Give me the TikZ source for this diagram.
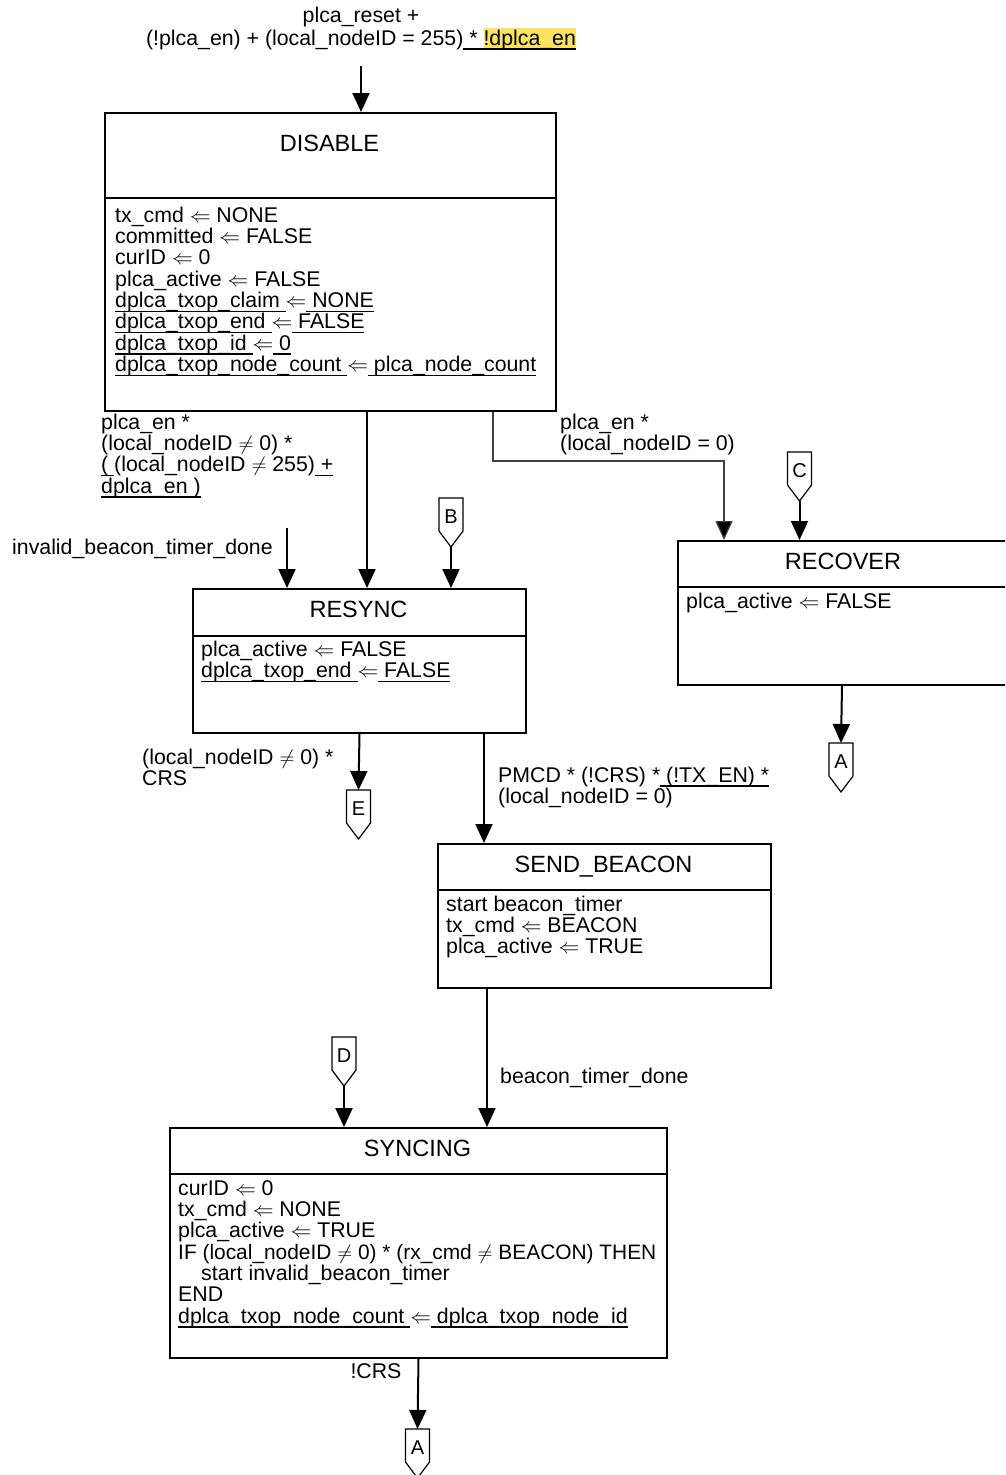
\documentclass[tikz,border=0pt]{standalone}
\usepackage{fontspec}
\setmainfont{Liberation Sans}
\usetikzlibrary{arrows.meta}
\definecolor{hl}{HTML}{FCE35C}
\newcommand\ulx[1]{\setbox0\hbox{#1}\copy0\llap{\rule[-4.5pt]{\wd0}{1.3pt}}}
\newcommand\bstrut{\rule{0pt}{17pt}}
\newcommand\getsarrow{$\Leftarrow$}
\newcommand\bodyf{\fontsize{21.3}{21.3}\selectfont}
\newcommand\titlef{\fontsize{23.5}{24}\selectfont}
\newcommand\offpage[4]{%
  \draw[pentline] (#2-12,#3) -- (#2+12,#3) -- (#2+12,#3+33) -- (#2,#3+49) -- (#2-12,#3+33) -- cycle;
  \node[letter] (#1) at (#2,#3+25) {#4};
  \coordinate (#1in) at (#2,#3);
  \coordinate (#1out) at (#2,#3+49);}
\tikzset{
  x=1pt, y=-1pt,
  statebox/.style={draw, line width=2pt, inner sep=0pt, anchor=north west},
  divider/.style={line width=1.5pt},
  arr/.style={line width=2pt, -{Triangle[width=17pt,length=19pt]}},
  thinarr/.style={line width=1.2pt, draw=black!75, -{Triangle[width=17pt,length=19pt,fill=black]}},
  pentline/.style={line width=1.2pt},
  letter/.style={anchor=base, inner sep=0pt, font=\fontsize{20}{22}\selectfont},
  body/.style={anchor=north west, inner sep=0pt, align=left, font=\bodyf},
  title/.style={anchor=base, inner sep=0pt, font=\titlef},
  lbl/.style={anchor=north west, inner sep=0pt, align=left, font=\bodyf},
}
\begin{document}
\begin{tikzpicture}
\useasboundingbox (0,0) rectangle (1005,1475);
\clip (0,0) rectangle (1005,1475);

% ---------- states ----------
\node[statebox, minimum width=451pt, minimum height=298pt] (disable) at (104,112) {};
\draw[divider] (disable.west |- 0,198) -- (disable.east |- 0,198);
\node[title] (disablet) at (329.5,151) {DISABLE};
\node[body] (disableb) at (115,205) {\bstrut tx\_cmd \getsarrow{} NONE\\
committed \getsarrow{} FALSE\\
curID \getsarrow{} 0\\
plca\_active \getsarrow{} FALSE\\
\ulx{dplca\_txop\_claim }\getsarrow\ulx{ NONE}\\
\ulx{dplca\_txop\_end }\getsarrow\ulx{ FALSE}\\
\ulx{dplca\_txop\_id }\getsarrow\ulx{ 0}\\
\ulx{dplca\_txop\_node\_count }\getsarrow\ulx{ plca\_node\_count}};

\node[statebox, minimum width=333pt, minimum height=144pt] (resync) at (192,588) {};
\draw[divider] (resync.west |- 0,636) -- (resync.east |- 0,636);
\node[title] (resynct) at (358.5,617) {RESYNC};
\node[body] (resyncb) at (201,639) {\bstrut plca\_active \getsarrow{} FALSE\\
\ulx{dplca\_txop\_end }\getsarrow\ulx{ FALSE}};

\node[statebox, minimum width=332pt, minimum height=144pt] (recover) at (677,540) {};
\draw[divider] (recover.west |- 0,587) -- (recover.east |- 0,587);
\node[title] (recovert) at (843,569) {RECOVER};
\node[body] (recoverb) at (686,591) {\bstrut plca\_active \getsarrow{} FALSE};

\node[statebox, minimum width=333pt, minimum height=144pt] (send) at (437,843) {};
\draw[divider] (send.west |- 0,890) -- (send.east |- 0,890);
\node[title] (sendt) at (603.5,872) {SEND\_BEACON};
\node[body] (sendb) at (446,894) {\bstrut start beacon\_timer\\
tx\_cmd \getsarrow{} BEACON\\
plca\_active \getsarrow{} TRUE};

\node[statebox, minimum width=497pt, minimum height=230pt] (sync) at (169,1127) {};
\draw[divider] (sync.west |- 0,1174) -- (sync.east |- 0,1174);
\node[title] (synct) at (417.5,1156) {SYNCING};
\node[body] (syncb) at (178,1178) {\bstrut curID \getsarrow{} 0\\
tx\_cmd \getsarrow{} NONE\\
plca\_active \getsarrow{} TRUE\\
{\fontsize{20.9}{21.3}\selectfont IF (local\_nodeID $\neq$ 0) * (rx\_cmd $\neq$ BEACON) THEN}\\
\hspace*{23pt}start invalid\_beacon\_timer\\
END\\
\ulx{dplca\_txop\_node\_count }\getsarrow\ulx{ dplca\_txop\_node\_id}};

% ---------- off-page connectors ----------
\offpage{B}{451}{498}{B}
\offpage{C}{799.5}{452}{C}
\offpage{E}{358.5}{790}{E}
\offpage{A1}{841}{743}{A}
\offpage{D}{344}{1037}{D}
\offpage{A2}{417.5}{1429}{A}

% ---------- labels ----------
\node[anchor=north, inner sep=0pt, align=center, font=\bodyf] (toplbl) at (361,5)
  {\bstrut plca\_reset +\\
   (!plca\_en) + (local\_nodeID = 255)\ulx{ * {\fboxsep=0pt\colorbox{hl}{\rule[-4.5pt]{0pt}{22pt}!dplca\_en}}}};
\node[lbl] (lbl1) at (101,412) {\bstrut plca\_en *\\
(local\_nodeID $\neq$ 0) *\\
\ulx{( }(local\_nodeID $\neq$ 255)\ulx{ +}\\
\ulx{dplca\_en )}};
\node[lbl] (lbl2) at (560,412) {\bstrut plca\_en *\\
(local\_nodeID = 0)};
\node[lbl] (lbl3) at (12,537) {\bstrut invalid\_beacon\_timer\_done};
\node[lbl] (lbl4) at (142,747) {\bstrut (local\_nodeID $\neq$ 0) *\\
CRS};
\node[lbl] (lbl5) at (498,765) {\bstrut PMCD * (!CRS) *\ulx{ (!TX\_EN) *}\\
(local\_nodeID = 0)};
\node[lbl] (lbl6) at (500,1066) {\bstrut beacon\_timer\_done};
\node[anchor=north, inner sep=0pt, font=\bodyf] (lbl7) at (376,1361) {\bstrut !CRS};

% ---------- connectors ----------
\coordinate (topin) at (361,66);
\coordinate (invin) at (287,528);
\draw[arr] (topin) -- (topin |- disable.north);
\draw[arr] ([xshift=36.5pt]disable.south) -- ([xshift=7.5pt]resync.north);
\draw[thinarr] ([xshift=162.5pt]disable.south) -- ++(0,49) -| ([xshift=-120pt]recover.north);
\draw[arr] (invin) -- (invin |- resync.north);
\draw[arr] (Bout) -- (Bout |- resync.north);
\draw[arr] (Cout) -- (Cout |- recover.north);
\draw[arr] (resync.south) -- (Ein);
\draw[arr] ([xshift=124.5pt]resync.south) -- ([xshift=-120.5pt]send.north);
\draw[arr] ([xshift=-2pt]recover.south) -- (A1in);
\draw[arr] ([xshift=-117.5pt]send.south) -- ([xshift=68.5pt]sync.north);
\draw[arr] (Dout) -- (Dout |- sync.north);
\draw[arr] (sync.south) -- (A2in);
\end{tikzpicture}
\end{document}
